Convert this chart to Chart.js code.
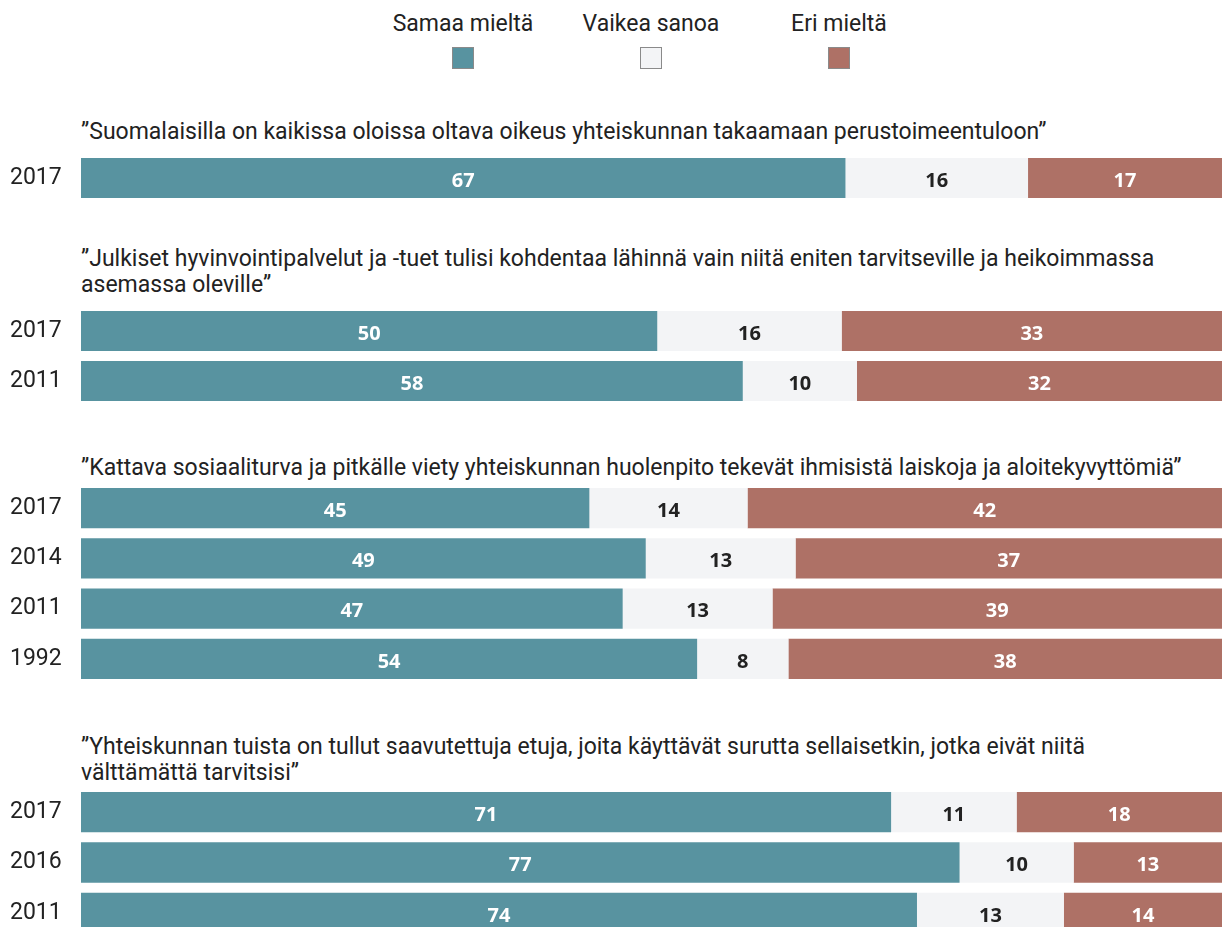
<!DOCTYPE html>
<html lang="fi">
<head>
<meta charset="utf-8">
<script src="https://cdn.jsdelivr.net/npm/chart.js@4.4.1/dist/chart.umd.min.js"></script>
<style>
  body { margin: 0; width: 1222px; height: 927px; overflow: hidden; background: #fff;
         font-family: Roboto, sans-serif; color: #222; position: relative; }
  .legend-item { position: absolute; top: 11px; width: 200px; margin-left: -100px; text-align: center;
                 font-size: 23px; line-height: 26px; }
  .swatch { width: 20px; height: 20px; border: 1px solid #8a8a8a; margin: 10px auto 0; }
  .heading { position: absolute; left: 81px; font-size: 23px; line-height: 26px; white-space: nowrap; }
  .chart-box { position: absolute; left: 0; }
</style>
</head>
<body>

<div id="legend"></div>

<div class="heading" style="top:119px" id="q0"></div>
<div class="chart-box" style="top:153px"><canvas id="c0" width="1222" height="50"></canvas></div>

<div class="heading" style="top:246px" id="q1"></div>
<div class="chart-box" style="top:306px"><canvas id="c1" width="1222" height="100"></canvas></div>

<div class="heading" style="top:455px" id="q2"></div>
<div class="chart-box" style="top:483px"><canvas id="c2" width="1222" height="201"></canvas></div>

<div class="heading" style="top:734px" id="q3"></div>
<div class="chart-box" style="top:787px"><canvas id="c3" width="1222" height="151"></canvas></div>

<script>
// Answer categories and their colours
const categories = ['Samaa mieltä', 'Vaikea sanoa', 'Eri mieltä'];
const COLORS = ['#5893a0', '#f3f4f6', '#ae7166'];
const TEXT_COLORS = ['#ffffff', '#222222', '#ffffff'];
const LEGEND_X = [463, 651, 839];

// Statements (line break where the original wraps)
const questions = [
    '”Suomalaisilla on kaikissa oloissa oltava oikeus yhteiskunnan takaamaan perustoimeentuloon”',
    '”Julkiset hyvinvointipalvelut ja -tuet tulisi kohdentaa lähinnä vain niitä eniten tarvitseville ja heikoimmassa\nasemassa oleville”',
    '”Kattava sosiaaliturva ja pitkälle viety yhteiskunnan huolenpito tekevät ihmisistä laiskoja ja aloitekyvyttömiä”',
    '”Yhteiskunnan tuista on tullut saavutettuja etuja, joita käyttävät surutta sellaisetkin, jotka eivät niitä\nvälttämättä tarvitsisi”'
];

// Group 1
const years1 = ['2017'];
const agree1 = [67];
const unsure1 = [16];
const disagree1 = [17];

// Group 2
const years2 = ['2017', '2011'];
const agree2 = [50, 58];
const unsure2 = [16, 10];
const disagree2 = [33, 32];

// Group 3
const years3 = ['2017', '2014', '2011', '1992'];
const agree3 = [45, 49, 47, 54];
const unsure3 = [14, 13, 13, 8];
const disagree3 = [42, 37, 39, 38];

// Group 4
const years4 = ['2017', '2016', '2011'];
const agree4 = [71, 77, 74];
const unsure4 = [11, 10, 13];
const disagree4 = [18, 13, 14];

// Legend (HTML)
const legendEl = document.getElementById('legend');
categories.forEach((c, i) => {
    const item = document.createElement('div');
    item.className = 'legend-item';
    item.style.left = LEGEND_X[i] + 'px';
    item.innerHTML = `<div>${c}</div><div class="swatch" style="background:${COLORS[i]}"></div>`;
    legendEl.appendChild(item);
});

// Headings
questions.forEach((q, i) => {
    const el = document.getElementById('q' + i);
    q.split('\n').forEach((line, j) => {
        if (j > 0) el.appendChild(document.createElement('br'));
        el.appendChild(document.createTextNode(line));
    });
});

// Writes the rounded value in the middle of every segment
const segmentLabels = {
    id: 'segmentLabels',
    afterDatasetsDraw(chart) {
        const ctx = chart.ctx;
        ctx.save();
        ctx.font = 'bold 20px "Open Sans", sans-serif';
        ctx.textAlign = 'center';
        ctx.textBaseline = 'middle';
        chart.data.datasets.forEach((ds, di) => {
            const meta = chart.getDatasetMeta(di);
            meta.data.forEach((bar, i) => {
                const p = bar.getProps(['x', 'y', 'base'], true);
                ctx.fillStyle = ds.textColor;
                ctx.fillText(ds.raw[i], (p.x + p.base) / 2, p.y + 3);
            });
        });
        ctx.restore();
    }
};

function makeChart(id, years, agree, unsure, disagree) {
    // rows don't always sum to 100 because of rounding -> scale each to full width
    const totals = years.map((y, i) => agree[i] + unsure[i] + disagree[i]);
    const share = arr => arr.map((v, i) => v / totals[i] * 100);
    const series = [agree, unsure, disagree];

    return new Chart(document.getElementById(id), {
        type: 'bar',
        data: {
            labels: years,
            datasets: series.map((s, i) => ({
                label: categories[i],
                data: share(s),
                raw: s,
                backgroundColor: COLORS[i],
                textColor: TEXT_COLORS[i],
                borderWidth: 0,
                categoryPercentage: 1,
                barPercentage: 0.8
            }))
        },
        options: {
            indexAxis: 'y',
            responsive: false,
            animation: false,
            layout: { padding: { left: 10, right: 0, top: 0, bottom: 0 } },
            plugins: { legend: { display: false }, tooltip: { enabled: false } },
            scales: {
                x: { stacked: true, min: 0, max: 100, display: false },
                y: {
                    stacked: true,
                    grid: { display: false },
                    border: { display: false },
                    ticks: {
                        crossAlign: 'far',
                        padding: 0,
                        color: '#222',
                        font: { family: 'Roboto', size: 23 }
                    },
                    afterFit(scale) {
                        scale.width = 71;
                        // no half-label padding, rows use the full canvas height
                        scale.paddingTop = 0;
                        scale.paddingBottom = 0;
                    }
                }
            }
        },
        plugins: [segmentLabels]
    });
}

makeChart('c0', years1, agree1, unsure1, disagree1);
makeChart('c1', years2, agree2, unsure2, disagree2);
makeChart('c2', years3, agree3, unsure3, disagree3);
makeChart('c3', years4, agree4, unsure4, disagree4);
</script>
</body>
</html>
